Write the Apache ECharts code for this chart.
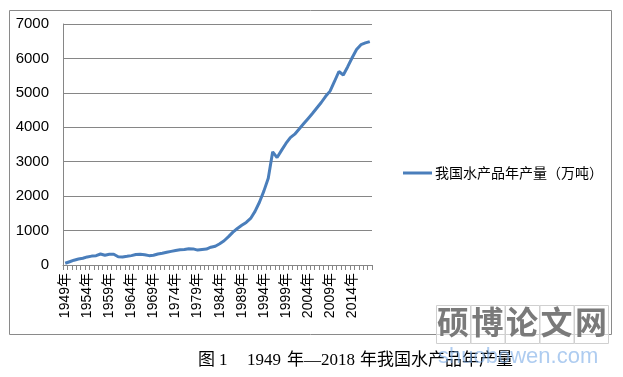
<!DOCTYPE html>
<html>
<head>
<meta charset="utf-8">
<script src="https://cdn.jsdelivr.net/npm/echarts@6/dist/echarts.min.js"></script>
<style>
html,body{margin:0;padding:0;background:#fff;}
#chart{width:623px;height:377px;}
</style>
</head>
<body>
<div id="chart"></div>
<script>
// Categories: years 1949–2018
const years = [];
for (let y = 1949; y <= 2018; y++) years.push(y + '年');

// 我国水产品年产量（万吨），
const output1949to1968 = [50, 95, 140, 172, 195, 235, 258, 270, 320, 285, 310, 312, 240, 235, 252, 272, 303, 312, 300, 272];
const output1969to1988 = [282, 320, 340, 370, 396, 421, 443, 449, 472, 467, 433, 452, 463, 516, 546, 619, 705, 824, 955, 1061];
const output1989to2008 = [1152, 1237, 1351, 1557, 1823, 2146, 2517, 3288, 3120, 3330, 3530, 3700, 3800, 3950, 4100, 4250, 4400, 4560, 4720, 4900];
const output2009to2018 = [5050, 5330, 5620, 5520, 5760, 6020, 6260, 6400, 6450, 6490];
const values = [].concat(output1949to1968, output1969to1988, output1989to2008, output2009to2018);

const yTicks = { min: 0, max: 7000, interval: 1000 };
const seriesName = '我国水产品年产量（万吨）';
const captionParts = [
  { text: '图', x: 198 },
  { text: '1', x: 219 },
  { text: '1949', x: 247 },
  { text: '年—2018', x: 287 },
  { text: '年我国水产品年产量', x: 360 }
];
const watermarkChars = ['硕', '博', '论', '文', '网'];
const watermarkUrl = 'shuobowen.com';

const chart = echarts.init(document.getElementById('chart'), null, { renderer: 'canvas' });

const wmGraphics = [];
watermarkChars.forEach((c, i) => {
  wmGraphics.push({
    type: 'rect', left: 436 + i * 34.5, top: 305,
    shape: { width: 34, height: 38 },
    style: { fill: 'rgba(255,255,255,0.6)', stroke: '#d0d0d0', lineWidth: 1 },
    z: 10
  });
  wmGraphics.push({
    type: 'text', left: 437 + i * 34.5, top: 306,
    style: { text: c, font: 'bold 32px "Noto Sans CJK SC"', fill: '#7a7a7a' },
    z: 11
  });
});

const captionGraphics = captionParts.map(p => ({
  type: 'text', left: p.x, top: 352,
  style: { text: p.text, font: '17px "Liberation Serif", "Noto Sans CJK SC", serif', fill: '#000' },
  z: 5
}));

chart.setOption({
  animation: false,
  backgroundColor: '#fff',
  textStyle: { fontFamily: '"Liberation Sans", "Noto Sans CJK SC", sans-serif' },
  grid: { left: 63, right: 251, top: 24, bottom: 112, containLabel: false },
  legend: {
    left: 398, top: 161,
    icon: 'rect', itemWidth: 29, itemHeight: 3, itemGap: 10,
    textStyle: { fontSize: 14, color: '#000', fontFamily: '"Noto Sans CJK SC", sans-serif', padding: [0, 0, 0, -2] },
    data: [seriesName]
  },
  xAxis: {
    type: 'category',
    data: years,
    boundaryGap: true,
    axisLine: { lineStyle: { color: '#868686', width: 1 } },
    axisTick: { show: true, interval: 0, length: 5, lineStyle: { color: '#868686' } },
    axisLabel: { interval: 4, rotate: 90, fontSize: 14, color: '#000', margin: 8 }
  },
  yAxis: {
    type: 'value',
    min: yTicks.min, max: yTicks.max, interval: yTicks.interval,
    axisLine: { show: true, lineStyle: { color: '#868686', width: 1 } },
    axisTick: { show: false },
    splitLine: { lineStyle: { color: '#868686', width: 1 } },
    axisLabel: { fontSize: 15, color: '#000', margin: 14, formatter: v => String(v) }
  },
  series: [{
    name: seriesName,
    type: 'line',
    data: values,
    showSymbol: false,
    symbol: 'none',
    lineStyle: { color: '#4a7ebb', width: 3 },
    itemStyle: { color: '#4a7ebb' }
  }],
  graphic: [
    {
      type: 'rect', left: 7, top: 8,
      shape: { width: 602, height: 324 },
      style: { fill: 'none', stroke: '#8a8a8a', lineWidth: 1 },
      z: -1
    },
    ...captionGraphics,
    ...wmGraphics,
    {
      type: 'text', left: 438, top: 346,
      style: { text: watermarkUrl, font: '22px "Liberation Sans", sans-serif', fill: 'rgba(120,170,230,0.6)' },
      z: 12
    }
  ]
});
</script>
</body>
</html>
